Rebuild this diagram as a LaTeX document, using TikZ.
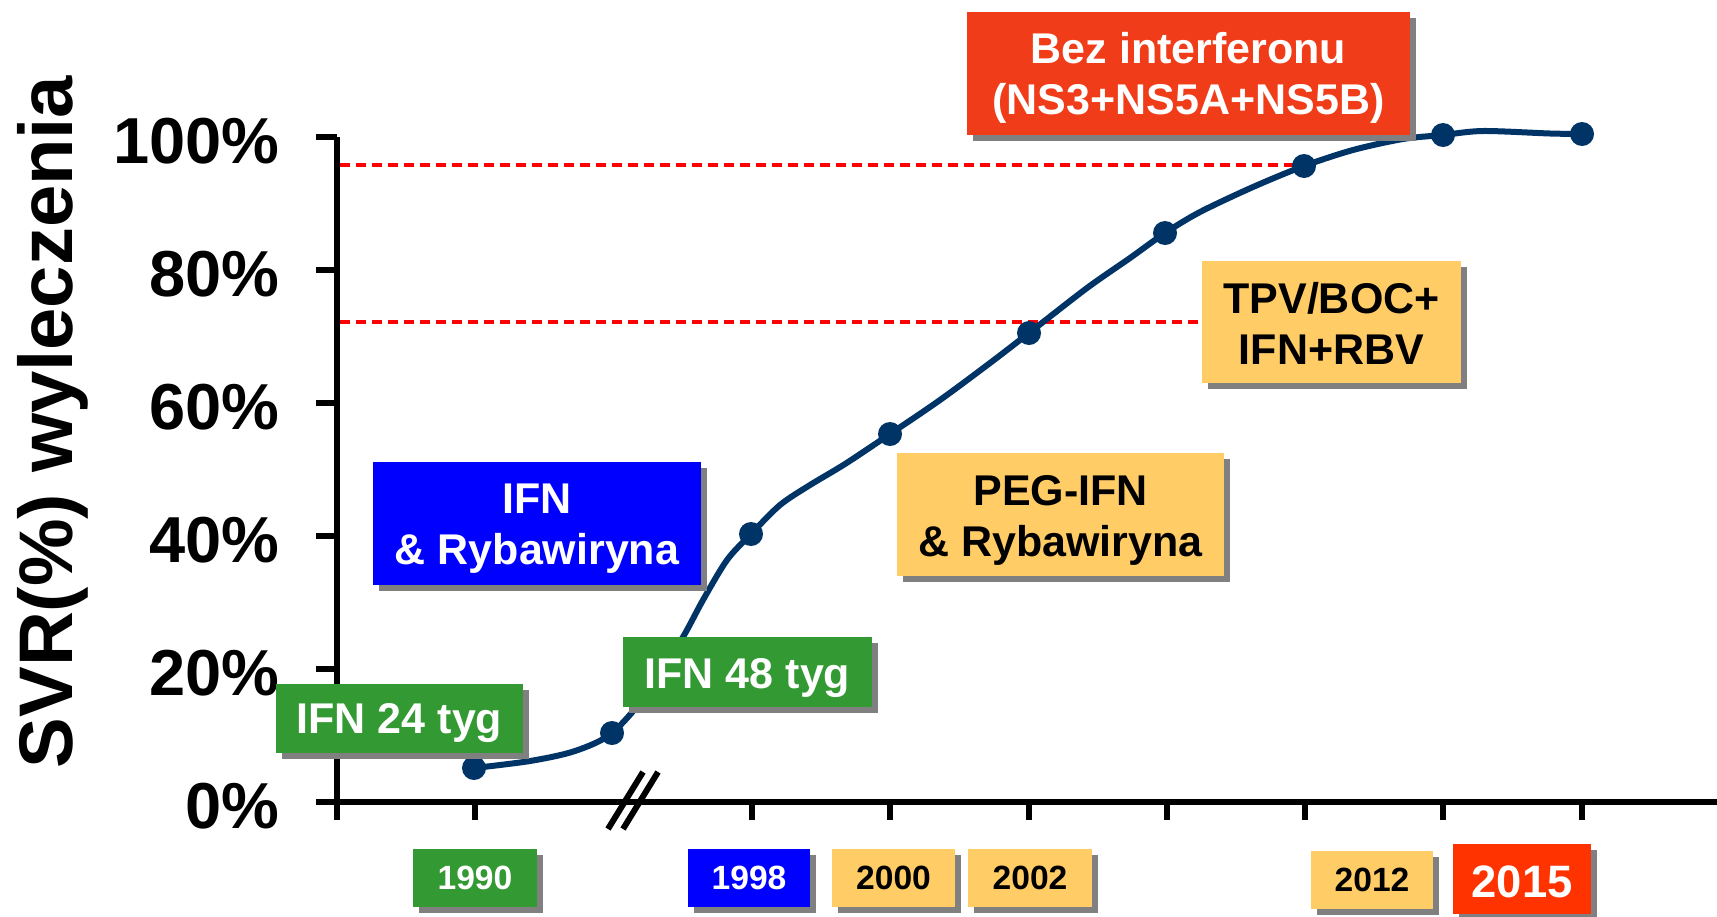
\documentclass[tikz,border=0pt]{standalone}
\usepackage{fontspec}
\setmainfont{Liberation Sans}
\usetikzlibrary{shadows}
\definecolor{cgreen}{HTML}{339933}
\definecolor{cblue}{HTML}{0000FF}
\definecolor{cyellow}{HTML}{FFCC66}
\definecolor{cred}{HTML}{F03C18}
\definecolor{cred2}{HTML}{FF3300}
\definecolor{cnavy}{HTML}{003366}
\definecolor{shadowgray}{HTML}{808080}
\tikzset{
  box/.style={inner sep=0pt,
    drop shadow={shadow xshift=2.75pt, shadow yshift=-2.75pt, fill=shadowgray, opacity=1}},
  boxtxt/.style={inner sep=0pt, align=center, font=\bfseries\fontsize{21.5}{25.5}\selectfont},
  yeartxt/.style={inner sep=0pt, font=\bfseries\fontsize{16.8}{19}\selectfont},
  axisline/.style={line width=3pt, black},
  guide/.style={red, line width=1.65pt, dash pattern=on 5pt off 3pt},
  datacurve/.style={cnavy, line width=3pt, line join=round},
  datadot/.style={circle, fill=cnavy, inner sep=0pt, minimum size=12pt},
  ticklbl/.style={anchor=east, inner sep=0pt, font=\bfseries\fontsize{32.5}{36}\selectfont},
}
\begin{document}
\begin{tikzpicture}[x=0.5pt, y=-0.5pt]
\useasboundingbox (0,0) rectangle (1717,916);
% y-axis title
\node[rotate=90, anchor=base, inner sep=0pt, font=\bfseries\fontsize{38}{44}\selectfont] (ytitle) at (72,422) {SVR(\%) wyleczenia};
% tick labels
\node[ticklbl] (l100) at (280,141) {100\%};
\node[ticklbl] (l80) at (280,274) {80\%};
\node[ticklbl] (l60) at (280,407) {60\%};
\node[ticklbl] (l40) at (280,540) {40\%};
\node[ticklbl] (l20) at (280,673) {20\%};
\node[ticklbl] (l0) at (280,806) {0\%};
% axes
\draw[axisline] (337,137) -- (337,820);
\draw[axisline] (316,802) -- (1717,802);
\foreach \yy in {137,270,403,536,669}{ \draw[axisline] (316,\yy) -- (337,\yy); }
\foreach \xx in {475.3,751.9,890.2,1028.5,1166.8,1305.1,1443.4,1581.7}{ \draw[axisline] (\xx,802) -- (\xx,820); }
% axis break
\draw[line width=3pt] (608,829) -- (643,772);
\draw[line width=3pt] (623,829) -- (658,772);
% guide lines
\draw[guide] (340,165) -- (1304,165);
\draw[guide] (340,322) -- (1202,322);
% data
\coordinate (p1) at (474,768);
\coordinate (p2) at (612,733);
\coordinate (p3) at (751,534);
\coordinate (p4) at (890,434);
\coordinate (p5) at (1029,333);
\coordinate (p6) at (1165,233);
\coordinate (p7) at (1304,166);
\coordinate (p8) at (1443,135);
\coordinate (p9) at (1582,134);
\draw[datacurve] plot[smooth, tension=0.5] coordinates {(474,768) (530,761) (575,751) (612,733) (650,690) (683,637) (703,600) (727,560) (751,534) (780,505) (810,485) (845,464) (890,434) (940,400) (990,363) (1029,333) (1087,288) (1130,258) (1165,233) (1200,212) (1253,187) (1304,166) (1353,150) (1403,139) (1443,135) (1483,131) (1550,133.5) (1582,134)};
\foreach \p in {p1,p2,p3,p4,p5,p6,p7,p8,p9}{ \node[datadot] at (\p) {}; }
% boxes
\node[box, fill=cblue, minimum width=164pt, minimum height=61.5pt] (bifn) at (537,523.5) {};
\node[boxtxt, text=white] (tifn) at ([yshift=-2.75pt]bifn.center) {IFN\\\& Rybawiryna};
\node[box, fill=cgreen, minimum width=123.5pt, minimum height=34.5pt] (b24) at (399.5,718.5) {};
\node[boxtxt, text=white] (t24) at ([yshift=-2.5pt]b24.center) {IFN 24 tyg};
\node[box, fill=cgreen, minimum width=124.5pt, minimum height=35pt] (b48) at (747.5,672) {};
\node[boxtxt, text=white] (t48) at ([yshift=-3.25pt]b48.center) {IFN 48 tyg};
\node[box, fill=cyellow, minimum width=163.5pt, minimum height=61.5pt] (bpeg) at (1060.5,514.5) {};
\node[boxtxt, text=black] (tpeg) at ([yshift=-3pt]bpeg.center) {PEG-IFN\\\& Rybawiryna};
\node[box, fill=cyellow, minimum width=129.5pt, minimum height=61pt] (btpv) at (1331.5,322) {};
\node[boxtxt, text=black] (ttpv) at ([yshift=-0.5pt]btpv.center) {TPV/BOC+\\IFN+RBV};
\node[box, fill=cred, minimum width=221.5pt, minimum height=61.5pt] (bbez) at (1188.5,73.5) {};
\node[boxtxt, text=white] (tbez) at ([yshift=-2pt]bbez.center) {Bez interferonu\\(NS3+NS5A+NS5B)};
% year boxes
\node[box, fill=cgreen, minimum width=62pt, minimum height=29pt] (y1990) at (475,878) {};
\node[yeartxt, text=white] (t1990) at (y1990.center) {1990};
\node[box, fill=cblue, minimum width=61pt, minimum height=29pt] (y1998) at (749,878) {};
\node[yeartxt, text=white] (t1998) at (y1998.center) {1998};
\node[box, fill=cyellow, minimum width=61.5pt, minimum height=29pt] (y2000) at (893.5,878) {};
\node[yeartxt, text=black] (t2000) at (y2000.center) {2000};
\node[box, fill=cyellow, minimum width=62pt, minimum height=29pt] (y2002) at (1030,878) {};
\node[yeartxt, text=black] (t2002) at (y2002.center) {2002};
\node[box, fill=cyellow, minimum width=61pt, minimum height=29pt] (y2012) at (1372,880) {};
\node[yeartxt, text=black] (t2012) at (y2012.center) {2012};
\node[box, fill=cred2, minimum width=69pt, minimum height=35pt] (y2015) at (1522,879) {};
\node[inner sep=0pt, text=white, font=\bfseries\fontsize{22.7}{26}\selectfont] (t2015) at ([yshift=-1.5pt]y2015.center) {2015};
\end{tikzpicture}
\end{document}
